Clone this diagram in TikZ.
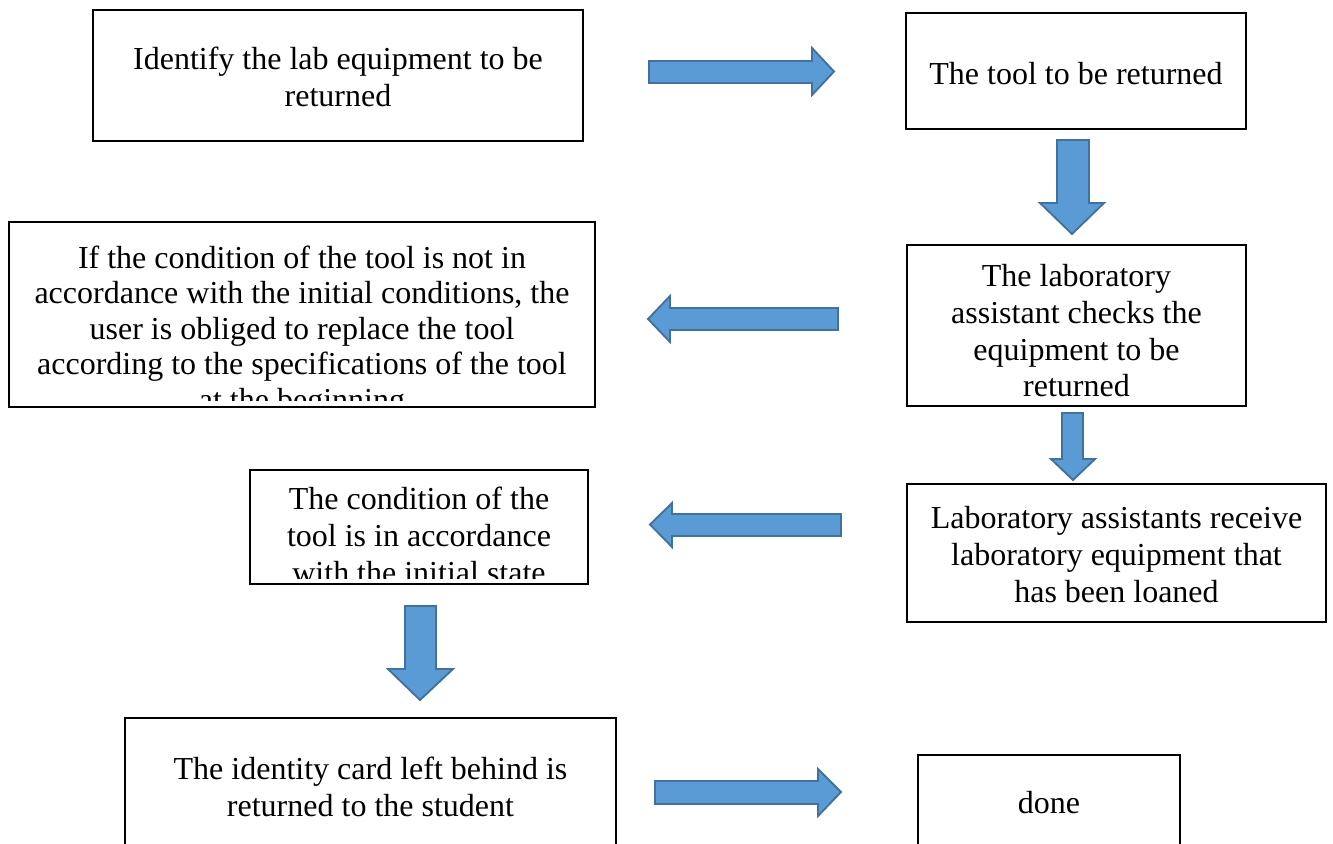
\documentclass[tikz,border=0pt]{standalone}
\usepackage{fontspec}
\setmainfont{Liberation Serif}
\definecolor{arrowfill}{HTML}{5B9BD5}
\definecolor{arrowedge}{HTML}{41719C}
\begin{document}
\begin{tikzpicture}[x=0.75pt,y=-0.75pt,
  box/.style={draw=black,line width=1.7pt},
  txt/.style={font=\fontsize{24}{27.6}\selectfont, align=center, inner sep=0pt, anchor=north},
  barrow/.style={fill=arrowfill,draw=arrowedge,line width=1.4pt,line join=miter}]
\useasboundingbox (0,0) rectangle (1333,843);
\clip (0,0) rectangle (1333,843);

% boxes
\draw[box] (93,10) rectangle (583,141);
\node[txt] (t1) at (338,46.5) {Identify the lab equipment to be\\returned};

\draw[box] (906,13) rectangle (1246,129);
\node[txt] (t2) at (1076,62) {The tool to be returned};

\draw[box] (9,222) rectangle (595,407);
\begin{scope}
  \clip (9,222) rectangle (595,400);
  \node[txt, font=\fontsize{24}{26.6}\selectfont] (t3) at (302,245.5) {If the condition of the tool is not in\\accordance with the initial conditions, the\\user is obliged to replace the tool\\according to the specifications of the tool\\at the beginning};
\end{scope}

\draw[box] (907,245) rectangle (1246,406);
\node[txt] (t4) at (1076.5,264) {The laboratory\\assistant checks the\\equipment to be\\returned};

\draw[box] (250,470) rectangle (588,584);
\begin{scope}
  \clip (250,470) rectangle (588,578);
  \node[txt] (t5) at (419,487) {The condition of the\\tool is in accordance\\with the initial state};
\end{scope}

\draw[box] (907,484) rectangle (1326,622);
\node[txt] (t6) at (1116.5,506) {Laboratory assistants receive\\laboratory equipment that\\has been loaned};

\draw[box] (125,718) rectangle (616,860);
\node[txt] (t7) at (370.5,757) {The identity card left behind is\\returned to the student};

\draw[box] (918,755) rectangle (1180,860);
\node[txt] (t8) at (1049,791.5) {done};

% block arrows
\draw[barrow] (649,61) -- (812,61) -- (812,48) -- (834,71.5) -- (812,95) -- (812,83) -- (649,83) -- cycle;
\draw[barrow] (1057,140) -- (1089,140) -- (1089,203) -- (1104,203) -- (1072,234) -- (1040,203) -- (1057,203) -- cycle;
\draw[barrow] (838,308) -- (670,308) -- (670,296) -- (648,319) -- (670,342) -- (670,330) -- (838,330) -- cycle;
\draw[barrow] (1062,413) -- (1083,413) -- (1083,459) -- (1095,459) -- (1073,480) -- (1051,459) -- (1062,459) -- cycle;
\draw[barrow] (841,514) -- (672,514) -- (672,503) -- (650,524.5) -- (672,547) -- (672,536) -- (841,536) -- cycle;
\draw[barrow] (405,606) -- (436,606) -- (436,669) -- (453,669) -- (420,700) -- (388,669) -- (405,669) -- cycle;
\draw[barrow] (655,781) -- (818,781) -- (818,769) -- (841,792) -- (818,816) -- (818,804) -- (655,804) -- cycle;
\end{tikzpicture}
\end{document}
